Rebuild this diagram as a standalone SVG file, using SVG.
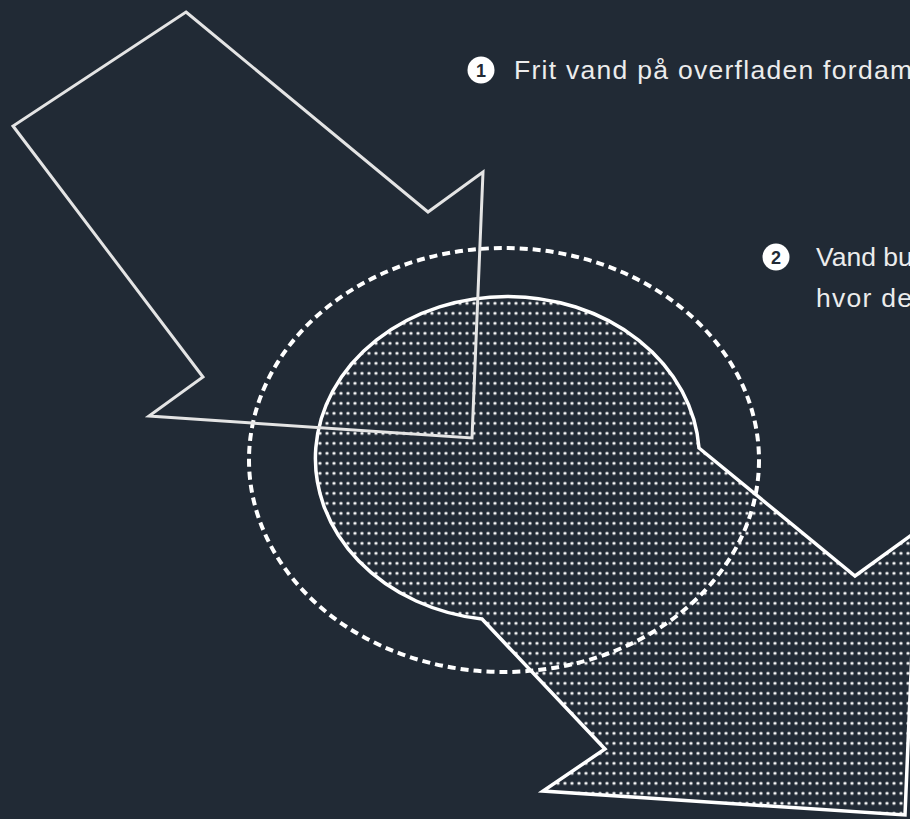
<svg xmlns="http://www.w3.org/2000/svg" width="910" height="819" viewBox="0 0 910 819">
  <style>
    .label { font-family: "Liberation Sans", Arial, sans-serif; font-size: 26.5px; fill: #ececec; }
    .badge circle { fill: #ffffff; }
    .badge text { font-family: "Liberation Sans", Arial, sans-serif; font-size: 18px; font-weight: bold; fill: #222a35; text-anchor: middle; }
    .outline { fill: none; stroke: #e4e4e4; stroke-width: 3; stroke-linejoin: miter; }
    .solid { fill: url(#dots); stroke: #ffffff; stroke-width: 3.5; stroke-linejoin: miter; }
    .dashed { fill: none; stroke: #ffffff; stroke-width: 4; stroke-dasharray: 8 5; }
  </style>
  <defs>
    <pattern id="dots" patternUnits="userSpaceOnUse" x="1.5" y="-1.7" width="7" height="10">
      <circle cx="3.5" cy="5" r="1.6" fill="#ffffff"/>
    </pattern>
  </defs>
  <rect width="910" height="819" fill="#212a35"/>

  <g id="node-saturated-zone">
    <path class="solid" d="M 699 448 L 855 576 L 917 531 L 905 815 L 543 791 L 605 749 L 482 619 A 192 162 0 1 1 699 448 Z"/>
  </g>

  <g id="node-evaporation-zone">
    <ellipse class="dashed" cx="504" cy="460" rx="255" ry="212"/>
  </g>

  <g id="node-surface-arrow">
    <path class="outline" d="M 186 12 L 428 212 L 483 172 L 472 438 L 149 416 L 203 377 L 13 126 Z"/>
  </g>

  <g id="connectors"></g>

  <g id="label-1">
    <g class="badge">
      <circle cx="481" cy="70" r="13.5"/>
      <text x="481" y="76.5">1</text>
    </g>
    <text class="label" x="514" y="79" textLength="398" lengthAdjust="spacing">Frit vand på overfladen fordam</text>
  </g>

  <g id="label-2">
    <g class="badge">
      <circle cx="776" cy="257" r="13.5"/>
      <text x="776" y="263.5">2</text>
    </g>
    <text class="label" x="816" y="266">Vand bu</text>
    <text class="label" x="816" y="307" textLength="96" lengthAdjust="spacing">hvor de</text>
  </g>
</svg>
